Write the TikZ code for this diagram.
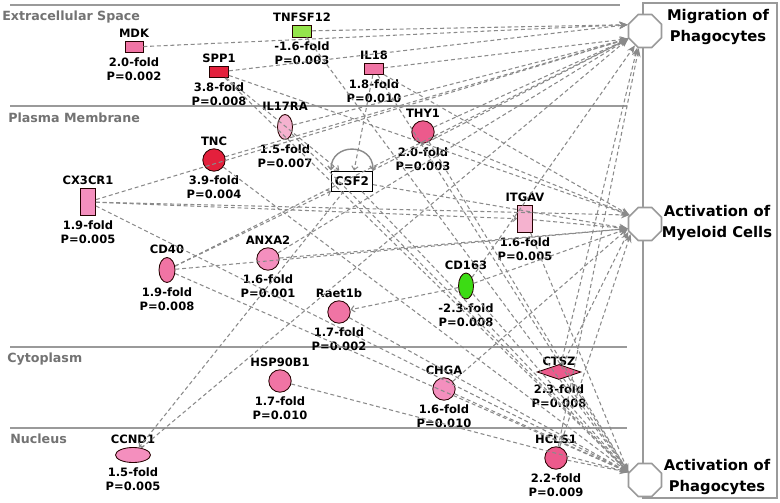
\documentclass[tikz,border=0pt]{standalone}
\usepackage{fontspec}
\setmainfont{DejaVu Sans}
\usepackage{xcolor}
\usetikzlibrary{shapes.geometric,arrows.meta,positioning}

\definecolor{upHot}{HTML}{E3203C}
\definecolor{upMid}{HTML}{EC5A8C}
\definecolor{upPink}{HTML}{F074A4}
\definecolor{upLight}{HTML}{F48FBE}
\definecolor{upPale}{HTML}{F5B2CF}
\definecolor{downLime}{HTML}{94E44C}
\definecolor{downGreen}{HTML}{3CDC14}
\definecolor{edgeGray}{HTML}{8A8A8A}
\definecolor{zoneGray}{HTML}{9A9A9A}

\begin{document}
\begin{tikzpicture}[
    x=0.25mm, y=-0.25mm,
    node distance=1.5pt,
    gene/.style={draw=black!85!red, line width=0.6pt, inner sep=0pt},
    gbox/.style={gene, rectangle},
    gcirc/.style={gene, circle, minimum size=5.6mm},
    gell/.style={gene, ellipse},
    gname/.style={font=\bfseries\fontsize{8.2}{10}\selectfont, inner sep=0.5pt},
    gval/.style={font=\bfseries\fontsize{8.2}{10}\selectfont, align=center, inner sep=0.5pt},
    zone/.style={draw=zoneGray, line width=0.9pt},
    zname/.style={font=\bfseries\fontsize{9}{11}\selectfont, text=black!55, anchor=base west, inner sep=0pt},
    func/.style={regular polygon, regular polygon sides=8, draw=zoneGray, line width=1.2pt, fill=white, minimum size=8.9mm, inner sep=0pt},
    fname/.style={font=\bfseries\fontsize{10.5}{14.5}\selectfont, align=center},
    rel/.style={draw=edgeGray, line width=0.75pt, dash pattern=on 2.8pt off 2pt, -{Stealth[length=6pt,width=5pt]}},
    act/.style={draw=edgeGray, line width=0.75pt, dash pattern=on 2.8pt off 2pt, -{Straight Barb[length=2.5pt,width=4.5pt]}},
    selfloop/.style={draw=edgeGray, line width=1pt, {Straight Barb[length=2.5pt,width=4.5pt]}-{Straight Barb[length=2.5pt,width=4.5pt]}}
]
    \path [use as bounding box, fill=white] (0,0) rectangle (780,502);

    % compartments
    \draw [zone] (10,5) -- (620,5);
    \draw [zone] (10,106) -- (627,106);
    \draw [zone] (10,347) -- (627,347);
    \draw [zone] (10,428) -- (627,428);
    \node [zname] (z1) at (2,20) {Extracellular Space};
    \node [zname] (z2) at (8,122) {Plasma Membrane};
    \node [zname] (z3) at (7,362) {Cytoplasm};
    \node [zname] (z4) at (10,443) {Nucleus};

    % functions
    \draw [draw=zoneGray, line width=0.9pt] (643,3) rectangle (777,498);
    \node [func] (mig) at (645,31) {};
    \node [func] (myl) at (645,224) {};
    \node [func] (aph) at (645,480) {};
    \node [fname] (mig-t) at (718,27) {Migration of\\Phagocytes};
    \node [fname] (myl-t) at (717,223) {Activation of\\Myeloid Cells};
    \node [fname] (aph-t) at (717,477) {Activation of\\Phagocytes};

    % molecules
    \node [gbox, fill=upPink, minimum width=4.5mm, minimum height=2.75mm] (mdk) at (134,47) {};
    \node [gname, above=of mdk] (mdk-n) {MDK};
    \node [gval, below=2.5pt of mdk] (mdk-v) {2.0-fold\\P=0.002};

    \node [gbox, fill=downLime, minimum width=4.75mm, minimum height=3mm] (tnfsf) at (302,31) {};
    \node [gname, above=of tnfsf] (tnfsf-n) {TNFSF12};
    \node [gval, below=2.5pt of tnfsf] (tnfsf-v) {-1.6-fold\\P=0.003};

    \node [gbox, fill=upHot, minimum width=4.75mm, minimum height=2.75mm] (spp1) at (219,72) {};
    \node [gname, above=of spp1] (spp1-n) {SPP1};
    \node [gval, below=2.5pt of spp1] (spp1-v) {3.8-fold\\P=0.008};

    \node [gbox, fill=upPink, minimum width=4.75mm, minimum height=2.75mm] (il18) at (374,69) {};
    \node [gname, above=of il18] (il18-n) {IL18};
    \node [gval, below=2.5pt of il18] (il18-v) {1.8-fold\\P=0.010};

    \node [gell, fill=upPale, minimum width=3.75mm, minimum height=6.25mm] (il17ra) at (285,127) {};
    \node [gname, above=of il17ra] (il17ra-n) {IL17RA};
    \node [gval, below=2.5pt of il17ra] (il17ra-v) {1.5-fold\\P=0.007};

    \node [gcirc, fill=upHot] (tnc) at (214,160) {};
    \node [gname, above=of tnc] (tnc-n) {TNC};
    \node [gval, below=2.5pt of tnc] (tnc-v) {3.9-fold\\P=0.004};

    \node [gcirc, fill=upMid] (thy1) at (423,132) {};
    \node [gname, above=of thy1] (thy1-n) {THY1};
    \node [gval, below=2.5pt of thy1] (thy1-v) {2.0-fold\\P=0.003};

    \node [draw=black, line width=0.7pt, fill=white, minimum width=10.25mm, minimum height=5mm, inner sep=0pt, font=\bfseries\fontsize{8.5}{10}\selectfont] (csf2) at (352,181) {CSF2};

    \node [gbox, fill=upLight, minimum width=3.75mm, minimum height=6.75mm] (cx3cr1) at (88,202) {};
    \node [gname, above=of cx3cr1] (cx3cr1-n) {CX3CR1};
    \node [gval, below=2.5pt of cx3cr1] (cx3cr1-v) {1.9-fold\\P=0.005};

    \node [gell, fill=upPink, minimum width=4mm, minimum height=6.25mm] (cd40) at (167,270) {};
    \node [gname, above=of cd40] (cd40-n) {CD40};
    \node [gval, below=2.5pt of cd40] (cd40-v) {1.9-fold\\P=0.008};

    \node [gcirc, fill=upLight] (anxa2) at (268,259) {};
    \node [gname, above=of anxa2] (anxa2-n) {ANXA2};
    \node [gval, below=2.5pt of anxa2] (anxa2-v) {1.6-fold\\P=0.001};

    \node [gcirc, fill=upPink] (raet) at (339,312) {};
    \node [gname, above=of raet] (raet-n) {Raet1b};
    \node [gval, below=2.5pt of raet] (raet-v) {1.7-fold\\P=0.002};

    \node [gbox, fill=upPale, minimum width=3.75mm, minimum height=6.75mm] (itgav) at (525,219) {};
    \node [gname, above=of itgav] (itgav-n) {ITGAV};
    \node [gval, below=2.5pt of itgav] (itgav-v) {1.6-fold\\P=0.005};

    \node [gell, fill=downGreen, minimum width=3.75mm, minimum height=6.5mm] (cd163) at (466,286) {};
    \node [gname, above=of cd163] (cd163-n) {CD163};
    \node [gval, below=2.5pt of cd163] (cd163-v) {-2.3-fold\\P=0.008};

    \node [gcirc, fill=upPink] (hsp) at (280,381) {};
    \node [gname, above=of hsp] (hsp-n) {HSP90B1};
    \node [gval, below=2.5pt of hsp] (hsp-v) {1.7-fold\\P=0.010};

    \node [gcirc, fill=upLight] (chga) at (444,389) {};
    \node [gname, above=of chga] (chga-n) {CHGA};
    \node [gval, below=2.5pt of chga] (chga-v) {1.6-fold\\P=0.010};

    \node [gene, diamond, fill=upMid, minimum width=11mm, minimum height=3.75mm] (ctsz) at (559,372) {};
    \node [gname, above=-1.5pt of ctsz] (ctsz-n) {CTSZ};
    \node [gval, below=2.5pt of ctsz] (ctsz-v) {2.3-fold\\P=0.008};

    \node [gcirc, fill=upMid] (hcls1) at (556,458) {};
    \node [gname, above=of hcls1] (hcls1-n) {HCLS1};
    \node [gval, below=2.5pt of hcls1] (hcls1-v) {2.2-fold\\P=0.009};

    \node [gell, fill=upLight, minimum width=8.75mm, minimum height=3.75mm] (ccnd1) at (133,455) {};
    \node [gname, above=of ccnd1] (ccnd1-n) {CCND1};
    \node [gval, below=2.5pt of ccnd1] (ccnd1-v) {1.5-fold\\P=0.005};

    % relations between molecules
    \draw [selfloop] (csf2.north east) .. controls +(0,-28) and +(0,-28) .. (csf2.north west);
    \draw [act] (spp1) -- (csf2);
    \draw [act] (il18) -- (csf2);
    \draw [act] (cd40) -- (csf2);
    \draw [act] (csf2) -- (ccnd1);
    \draw [act] (cx3cr1) -- (itgav);
    \draw [act] (cd163) -- (raet);

    % migration of phagocytes
    \draw [rel] (mdk) -- (mig.160);
    \draw [rel] (tnfsf) -- (mig.160);
    \draw [rel] (spp1) -- (mig.160);
    \draw [rel] (il18) -- (mig.205);
    \draw [rel] (il17ra) -- (mig.205);
    \draw [rel] (tnc) -- (mig.205);
    \draw [rel] (thy1) -- (mig.205);
    \draw [rel] (cx3cr1) -- (mig.205);
    \draw [rel] (cd40) -- (mig.205);
    \draw [rel] (anxa2) -- (mig.205);
    \draw [rel] (csf2) -- (mig.205);
    \draw [rel] (ccnd1) -- (mig.205);
    \draw [rel] (cd163) -- (mig.235);
    \draw [rel] (ctsz) -- (mig.245);
    \draw [rel] (hcls1) -- (mig.250);

    % activation of myeloid cells
    \draw [rel] (spp1) -- (myl.150);
    \draw [rel] (il18) -- (myl.150);
    \draw [rel] (thy1) -- (myl.150);
    \draw [rel] (cx3cr1) -- (myl.150);
    \draw [rel] (itgav) -- (myl.195);
    \draw [rel] (anxa2) -- (myl.195);
    \draw [rel] (cd40) -- (myl.195);
    \draw [rel] (cd163) -- (myl.195);
    \draw [rel] (csf2) -- (myl.195);
    \draw [rel] (chga) -- (myl.195);
    \draw [rel] (ctsz) -- (myl.205);
    \draw [rel] (hcls1) -- (myl.215);

    % activation of phagocytes
    \draw [rel] (tnfsf) -- (aph.155);
    \draw [rel] (spp1) -- (aph.155);
    \draw [rel] (il18) -- (aph.155);
    \draw [rel] (il17ra) -- (aph.155);
    \draw [rel] (thy1) -- (aph.155);
    \draw [rel] (tnc) -- (aph.155);
    \draw [rel] (cx3cr1) -- (aph.155);
    \draw [rel] (cd40) -- (aph.155);
    \draw [rel] (csf2) -- (aph.155);
    \draw [rel] (raet) -- (aph.155);
    \draw [rel] (itgav) -- (aph.155);
    \draw [rel] (cd163) -- (aph.155);
    \draw [rel] (hsp) -- (aph.155);
    \draw [rel] (chga) -- (aph.155);
    \draw [rel] (ctsz) -- (aph.155);
    \draw [rel] (hcls1) -- (aph.155);
\end{tikzpicture}
\end{document}
